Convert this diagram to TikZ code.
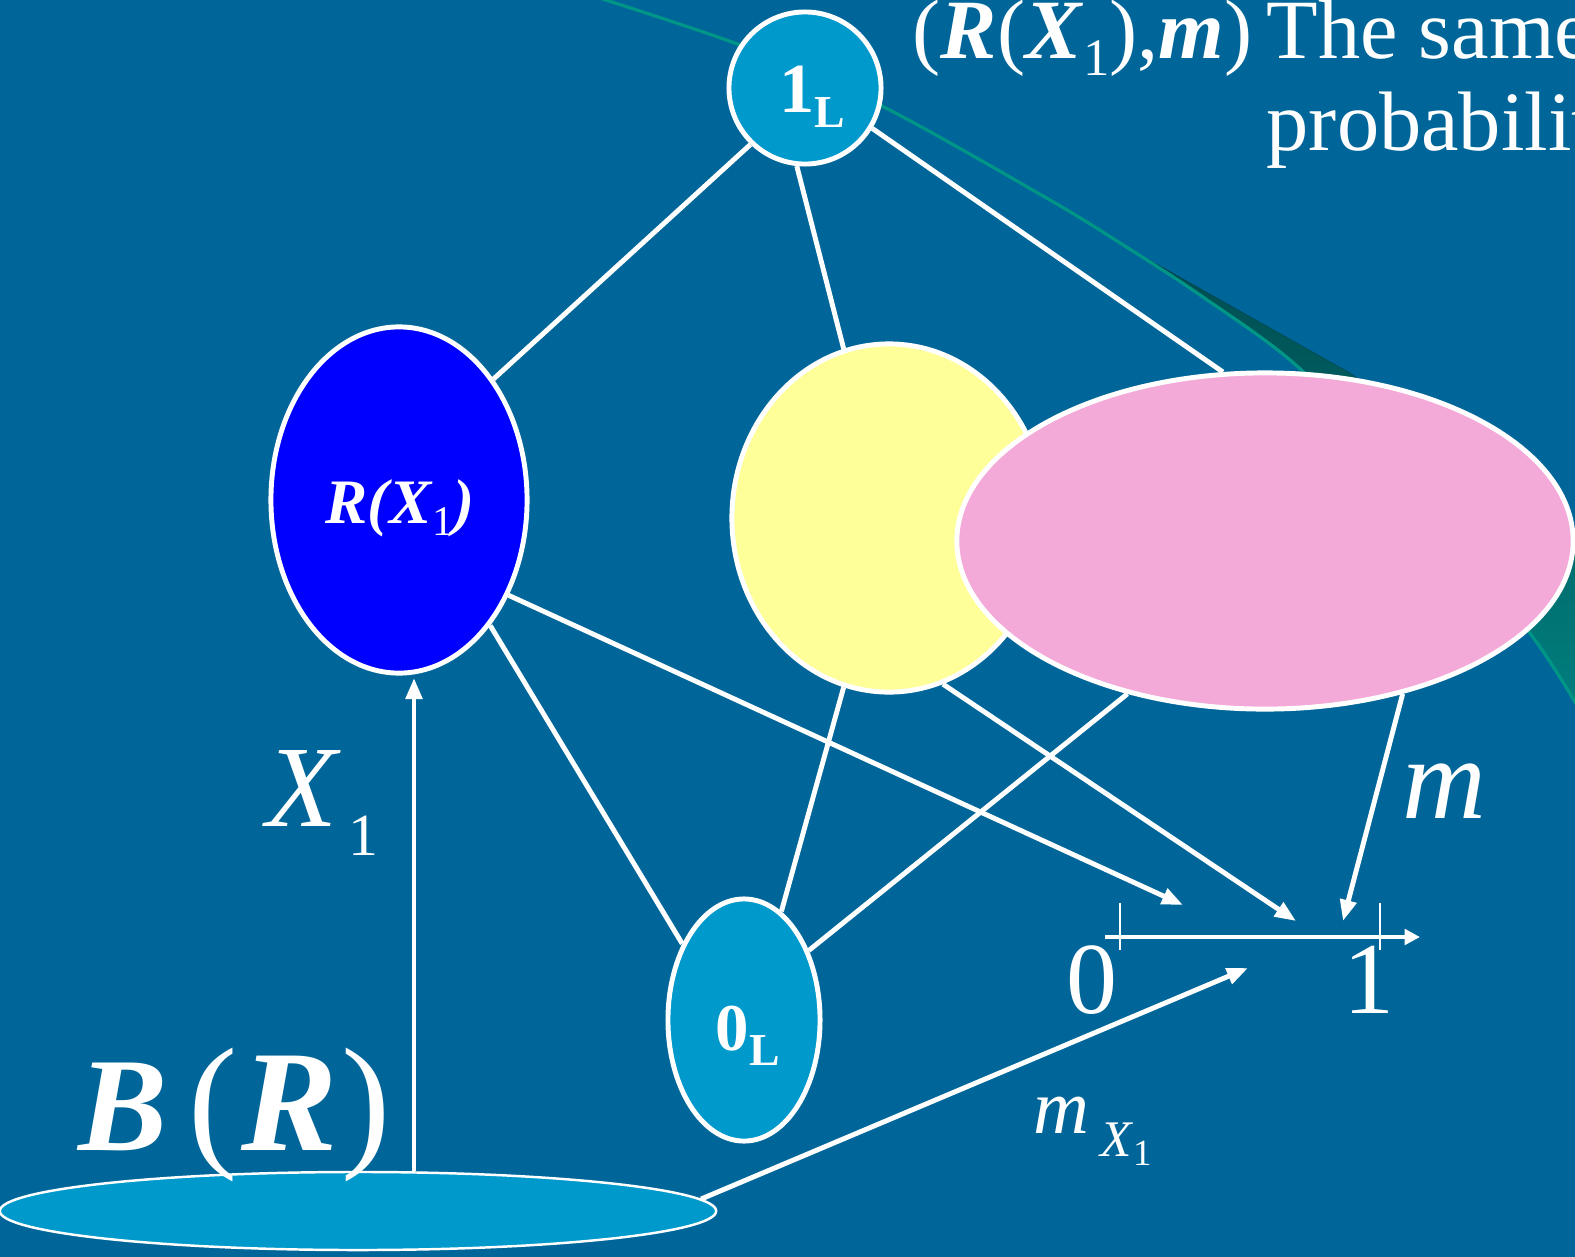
\documentclass[tikz,border=0pt]{standalone}
\usepackage{fontspec}
\setmainfont{Liberation Serif}
\usetikzlibrary{shapes.geometric,arrows.meta}
\definecolor{bg}{RGB}{0,102,153}
\definecolor{cyanfill}{RGB}{0,153,204}
\definecolor{pinkfill}{RGB}{244,170,217}
\definecolor{yellowfill}{RGB}{255,255,153}
\definecolor{bluefill}{RGB}{0,0,255}
\definecolor{swline}{RGB}{0,150,135}
\definecolor{swdark}{RGB}{0,76,80}
\definecolor{swteal}{RGB}{0,128,128}
\newcommand{\fsz}[1]{\fontsize{#1}{#1}\selectfont}
\begin{document}
\begin{tikzpicture}[x=0.01cm,y=-0.01cm,
  blob/.style={ellipse,draw=white,line width=1.4pt,inner sep=0pt},
  conn/.style={draw=white,line width=1.4pt},
  arr/.style={conn,-{Triangle[length=6pt,width=4.6pt]}},
  lab/.style={text=white,inner sep=0pt,anchor=base west}]
\useasboundingbox (0,0) rectangle (1575,1257);
\clip (0,0) rectangle (1575,1257);
\fill[bg] (0,0) rectangle (1575,1257);
% decorative swoosh
\fill[top color=swdark,bottom color=swteal] (1128,248) -- (1350,373) -- (1578,530) -- (1578,710)
  -- plot[smooth] coordinates {(1590,728) (1532,636) (1400,475) (1297,366) (1200,295) (1128,248)} -- cycle;
\draw[swline,line width=0.9pt] plot[smooth] coordinates {(590,-5) (740,45) (880,105) (1050,200) (1128,248) (1200,295) (1297,366) (1400,475) (1532,636) (1590,728)};
% nodes
\node[blob,circle,fill=cyanfill,minimum size=1.52cm] (one) at (805,88) {};
\node[blob,fill=bluefill,minimum width=2.56cm,minimum height=3.46cm] (rx) at (399,500) {};
\node[blob,fill=yellowfill,minimum width=3.14cm,minimum height=3.48cm] (yel) at (889,518) {};
\node[blob,fill=pinkfill,minimum width=6.16cm,minimum height=3.36cm] (pk) at (1265,541) {};
\node[blob,fill=cyanfill,minimum width=1.52cm,minimum height=2.42cm] (zero) at (744,1020) {};
\node[blob,fill=cyanfill,line width=0.7pt,minimum width=7.16cm,minimum height=0.78cm] (br) at (358,1211) {};
% labels inside nodes
\node[lab] (onelab) at (779,112) {\fsz{20}\textbf{1}\raisebox{-4.5pt}{\fsz{13}\textbf{L}}};
\node[lab] (rxlab) at (325,523) {\fsz{18}\textbf{\textit{R(X}}\raisebox{-3.5pt}{\fsz{12}1}\textbf{\textit{)}}};
\node[lab] (zerolab) at (715,1050) {\fsz{19}\textbf{0}\raisebox{-4.5pt}{\fsz{13}\textbf{L}}};
\node[lab] (brlab) at (78,1150) {\fsz{38}\textbf{\textit{B}}\hspace{6pt}{\fsz{42}(}\hspace{1pt}{\fsz{41}\textbf{\textit{R}}}\hspace{1pt}{\fsz{42})}};
% edges of the lattice
\draw[conn] (one.226) -- (rx.52.5);
\draw[conn] (one.264) -- (yel.105);
\draw[conn] (one.329) -- (pk.104);
\draw[conn] (rx.306) -- (zero.129);
\draw[conn] (yel.255) -- (zero.71);
\draw[conn] (pk.228) -- (zero.47);
% arrows to [0,1]
\coordinate (t1) at (1183,905);
\coordinate (t2) at (1296,921);
\coordinate (t3) at (1343,921);
\coordinate (t4) at (1248,968);
\coordinate (xtip) at (414,678);
\draw[arr] (rx.319) -- (t1);
\draw[arr] (yel.288) -- (t2);
\draw[arr] (pk.312) -- (t3);
\draw[arr] (br.2.2) -- (t4);
\draw[arr] (br.north -| xtip) -- (xtip);
% axis
\coordinate (a0) at (1105,937);
\coordinate (a1) at (1420,937);
\draw[white,line width=1.1pt,-{Triangle[length=4.4pt,width=4.4pt]}] (a0) -- (a1);
\draw[white,line width=0.5pt] (1120,903) -- (1120,950);
\draw[white,line width=0.5pt] (1380,903) -- (1380,950);
\node[lab] (lz) at (1066,1013) {\fsz{29}0};
\node[lab] (lo) at (1343,1013) {\fsz{29}1};
% other labels
\node[lab] (xl) at (266,826) {\fsz{33}\textit{X}\hspace{2pt}\raisebox{-8.3pt}{\fsz{17}1}};
\node[lab] (ml) at (1402,818) {\fsz{33}\textit{m}};
\node[lab] (mxl) at (1033,1133) {\fsz{22}\textit{m}\hspace{3pt}\raisebox{-6.8pt}{\fsz{14.6}\textit{X}\raisebox{-2.4pt}{\fsz{10.5}1}}};
\node[lab] (top1) at (912,58) {\fsz{24}(\textbf{\textit{R}}(\textbf{\textit{X}}\raisebox{-5pt}{\fsz{15}1}),\textbf{\textit{m}})\hspace{-2pt} The same};
\node[lab] (top2) at (1266,150) {\fsz{24}probability};
\end{tikzpicture}
\end{document}
